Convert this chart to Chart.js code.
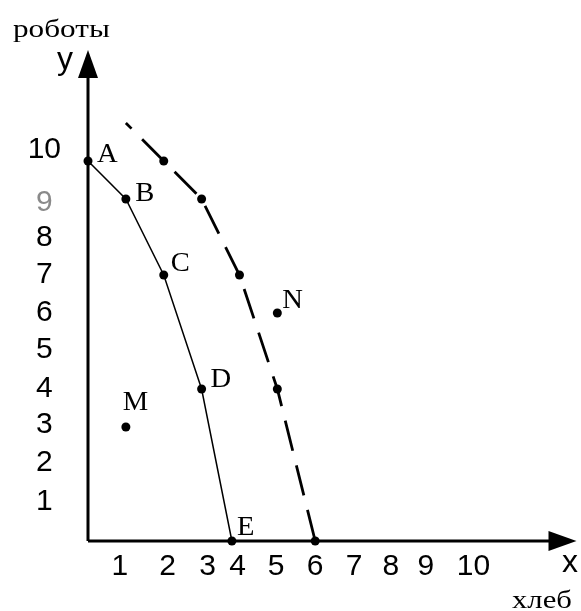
<!DOCTYPE html>
<html>
<head>
<meta charset="utf-8">
<script src="https://cdn.jsdelivr.net/npm/chart.js@4.4.1/dist/chart.umd.min.js"></script>
<style>
  html, body { margin: 0; padding: 0; background: #fff; }
  #wrap { width: 581px; height: 611px; }
</style>
</head>
<body>
<div id="wrap"><canvas id="ppfChart" width="581" height="611"></canvas></div>
<script>
// production possibilities: bread (x) against robots (y)
var frontierNames = ['A', 'B', 'C', 'D', 'E'];
var frontierX = [0, 1, 2, 3, 3.8];
var frontierY = [10, 9, 7, 4, 0];

// frontier after growth (dashed); first vertex has no dot
var grownX = [1, 2, 3, 4, 5, 6];
var grownY = [11, 10, 9, 7, 4, 0];

var extraNames = ['M', 'N'];
var extraX = [1, 5];
var extraY = [3, 6];

var xTickLabels = ['1', '2', '3', '4', '5', '6', '7', '8', '9', '10'];
var xTickValues = [0.84, 2.1, 3.16, 3.95, 4.97, 6.0, 7.03, 8.0, 8.92, 10.18];
var yTickLabels = ['1', '2', '3', '4', '5', '6', '7', '8', '9', '10'];
var yTickValues = [1.03, 2.05, 3.05, 4.0, 5.03, 6.0, 7.0, 7.97, 8.9, 10.29];

function toPoints(xs, ys) {
    var pts = [];
    for (var i = 0; i < xs.length; i++) {
        pts.push({ x: xs[i], y: ys[i] });
    }
    return pts;
}

var serif = '"Liberation Serif", "Times New Roman", serif';
var sans = '"Liberation Sans", Arial, sans-serif';

// where each letter sits relative to its dot
var labelOffset = {
    A: [9, 1], B: [9.5, 2.5], C: [7, -4], D: [9, -2], E: [5, -6],
    M: [-3, -17], N: [5, -5]
};

// left-aligned text, widened horizontally by sx
function wideText(ctx, text, x, y, sx) {
    ctx.save();
    ctx.translate(x, y);
    ctx.scale(sx, 1);
    ctx.fillText(text, 0, 0);
    ctx.restore();
}

var axesPlugin = {
    id: 'axesPlugin',
    beforeDatasetsDraw: function (chart) {
        var ctx = chart.ctx;
        var xs = chart.scales.x, ys = chart.scales.y;
        var ox = xs.getPixelForValue(0), oy = ys.getPixelForValue(0);
        var tipX = chart.chartArea.right, tipY = chart.chartArea.top;
        ctx.save();
        ctx.strokeStyle = '#000';
        ctx.fillStyle = '#000';
        ctx.lineWidth = 3;
        ctx.beginPath();
        ctx.moveTo(ox, oy);
        ctx.lineTo(ox, tipY + 20);
        ctx.moveTo(ox, oy);
        ctx.lineTo(tipX - 20, oy);
        ctx.stroke();
        // arrow heads
        ctx.beginPath();
        ctx.moveTo(ox, tipY);
        ctx.lineTo(ox - 10, tipY + 28);
        ctx.lineTo(ox + 10, tipY + 28);
        ctx.closePath();
        ctx.fill();
        ctx.beginPath();
        ctx.moveTo(tipX, oy);
        ctx.lineTo(tipX - 28, oy - 10);
        ctx.lineTo(tipX - 28, oy + 10);
        ctx.closePath();
        ctx.fill();
        ctx.restore();
    },
    afterDatasetsDraw: function (chart) {
        var ctx = chart.ctx;
        var xs = chart.scales.x, ys = chart.scales.y;
        ctx.save();
        ctx.fillStyle = '#000';
        ctx.textBaseline = 'alphabetic';
        ctx.textAlign = 'left';

        ctx.font = '27px ' + serif;
        function letter(name, x, y) {
            var off = labelOffset[name];
            wideText(ctx, name, xs.getPixelForValue(x) + off[0], ys.getPixelForValue(y) + off[1], 1.06);
        }
        frontierNames.forEach(function (n, i) { letter(n, frontierX[i], frontierY[i]); });
        extraNames.forEach(function (n, i) { letter(n, extraX[i], extraY[i]); });

        // axis titles
        ctx.font = '26px ' + serif;
        wideText(ctx, 'роботы', 13, 37, 1.2);
        wideText(ctx, 'хлеб', 512, 608, 1.18);

        ctx.font = '32px ' + sans;
        ctx.textAlign = 'center';
        ctx.fillText('y', 65, 69);
        ctx.fillText('x', 570, 572);
        ctx.restore();
    }
};

new Chart(document.getElementById('ppfChart'), {
    type: 'scatter',
    data: {
        datasets: [{
            label: 'frontier',
            data: toPoints(frontierX, frontierY),
            showLine: true,
            borderColor: '#000',
            borderWidth: 1.5,
            pointRadius: 4.5,
            pointBackgroundColor: '#000',
            pointBorderWidth: 0,
            tension: 0,
            clip: false
        }, {
            label: 'grown',
            data: toPoints(grownX, grownY),
            showLine: true,
            borderColor: '#000',
            borderWidth: 2.8,
            borderDash: [31, 15],
            borderDashOffset: 23,
            pointRadius: [0, 4.5, 4.5, 4.5, 4.5, 4.5],
            pointBackgroundColor: '#000',
            pointBorderWidth: 0,
            tension: 0,
            clip: false
        }, {
            label: 'other',
            data: toPoints(extraX, extraY),
            showLine: false,
            pointRadius: 4.5,
            pointBackgroundColor: '#000',
            pointBorderWidth: 0,
            clip: false
        }]
    },
    options: {
        responsive: false,
        animation: false,
        devicePixelRatio: 1,
        layout: { padding: { top: 50, right: 3, left: 0, bottom: 0 } },
        plugins: {
            legend: { display: false },
            tooltip: { enabled: false }
        },
        scales: {
            x: {
                type: 'linear',
                min: 0,
                max: 12.9,
                grid: { display: false, drawTicks: false },
                border: { display: false },
                afterBuildTicks: function (axis) {
                    axis.ticks = xTickValues.map(function (v) { return { value: v }; });
                },
                afterFit: function (axis) { axis.height = 70; },
                ticks: {
                    autoSkip: false,
                    maxRotation: 0,
                    padding: 8,
                    color: '#000',
                    font: { family: sans, size: 30 },
                    callback: function (value, index) { return xTickLabels[index]; }
                }
            },
            y: {
                type: 'linear',
                min: 0,
                max: 12.92,
                grid: { display: false, drawTicks: false },
                border: { display: false },
                afterBuildTicks: function (axis) {
                    axis.ticks = yTickValues.map(function (v) { return { value: v }; });
                },
                afterFit: function (axis) { axis.width = 88; },
                ticks: {
                    autoSkip: false,
                    crossAlign: 'center',
                    padding: 27,
                    font: { family: sans, size: 30 },
                    color: function (c) { return c.index === 8 ? '#8a8a8a' : '#000'; },
                    callback: function (value, index) { return yTickLabels[index]; }
                }
            }
        }
    },
    plugins: [axesPlugin]
});
</script>
</body>
</html>
